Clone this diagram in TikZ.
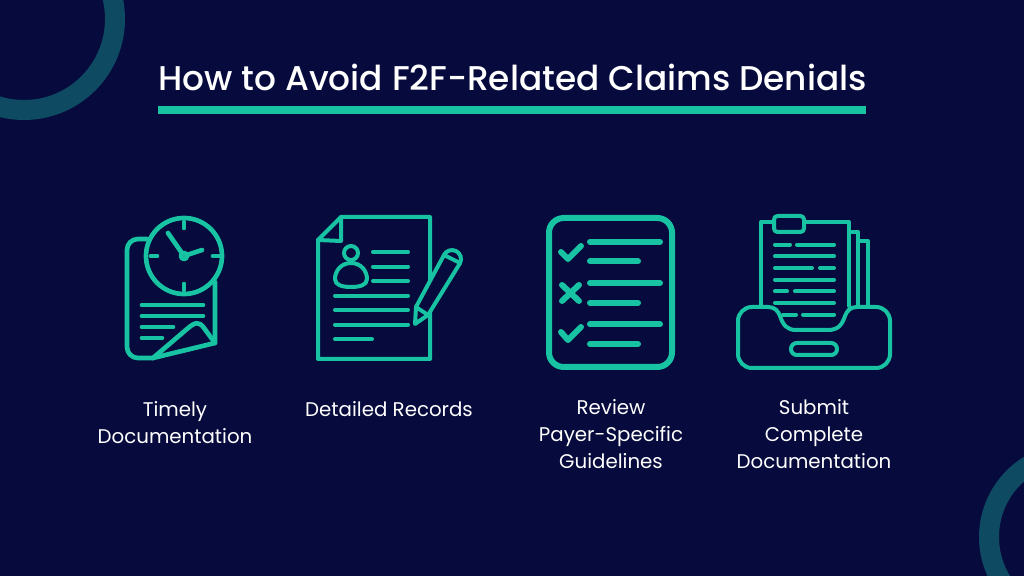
\documentclass[tikz,border=0pt]{standalone}
\usepackage{fontspec}
\setmainfont{Poppins}
\newfontfamily\titlefont{Poppins Medium}
\usepackage{xcolor}
\definecolor{navy}{HTML}{060A3C}
\definecolor{mint}{HTML}{17C3A2}
\definecolor{ringcol}{HTML}{0E4A62}
\tikzset{
  icon/.style={draw=mint, line width=1.4mm, line cap=round, line join=round},
  thinicon/.style={draw=mint, line width=1.2mm, line cap=round, line join=round},
  boldicon/.style={draw=mint, line width=1.8mm, line cap=round, line join=round},
  caption/.style={text=white, align=center, font=\fontsize{16.9}{23}\selectfont, inner sep=0pt},
}
\begin{document}
\begin{tikzpicture}[x=0.3mm, y=-0.3mm]
	\useasboundingbox (0,0) rectangle (1024,576);
	% background
	\fill[navy] (0,0) rectangle (1024,576);
	\begin{scope}
		\clip (0,0) rectangle (1024,576);
		\draw[ringcol, line width=6mm] (24,19) circle (91);
		\draw[ringcol, line width=6mm] (1073,537) circle (84);
	\end{scope}

	% title
	\node[text=white, anchor=base west, inner sep=0pt, font=\fontsize{29.3}{34}\selectfont\titlefont] (title) at (158,91) {How to Avoid F2F-Related Claims Denials};
	\fill[mint] (158,106) rectangle (866,114);

	% clock document
	\draw[icon] (147,239) -- (138,239) arc (-90:-180:11) -- (127,347) arc (180:90:11) -- (153,358) -- (215,343) -- (215,282);
	\draw[icon] (153,358) -- (187,329) .. controls (195,322) and (199,321) .. (204,328) -- (215,343);
	\draw[icon] (184,256) circle (38);
	\draw[icon] (184,222) -- (184,228);
	\draw[icon] (184,284) -- (184,290);
	\draw[icon] (151,256) -- (157,256);
	\draw[icon] (213,256) -- (219,256);
	\draw[icon] (168,233) -- (184,256) -- (202,250);
	\draw[icon, fill=navy] (184,256) circle (3);
	\draw[icon] (142,305) -- (203,305);
	\draw[icon] (142,316) -- (203,316);
	\draw[icon] (142,327) -- (173,327);
	\draw[icon] (142,338) -- (162,338);

	% records
	\draw[thinicon] (318,240) -- (341,217) -- (430,217) -- (430,359) -- (318,359) -- cycle;
	\draw[thinicon] (341,217) -- (341,241) -- (318,240);
	\draw[thinicon] (351,253) circle (7);
	\draw[thinicon] (351,263) .. controls (341,263) and (335,271) .. (335,279) .. controls (335,285) and (342,287) .. (351,287) .. controls (360,287) and (367,285) .. (367,279) .. controls (367,271) and (361,263) .. (351,263) -- cycle;
	\foreach \y in {252.3,266.7,281}{
		\draw[thinicon] (373,\y) -- (408,\y);
	}
	\foreach \y in {295.7,310,324.7}{
		\draw[thinicon] (335,\y) -- (408,\y);
	}
	\draw[thinicon] (335,339) -- (372,339);
	% pencil
	\draw[thinicon, fill=navy] (415,324) -- (416,307) -- (444,255) arc (-153:27:9) -- (428,315) -- cycle;
	\draw[thinicon] (416,307) -- (428,315);
	\draw[thinicon] (444,255) -- (460,263);

	% checklist
	\draw[boldicon, rounded corners=12.5pt] (549,218) rectangle (672,367);
	\foreach \y in {241.7,283,324.3}{
		\draw[boldicon] (590,\y) -- (660,\y);
		\draw[boldicon] (590,\y+19.7) -- (638,\y+19.7);
	}
	\draw[boldicon] (561,252) -- (568,259) -- (581,246);
	\draw[boldicon] (561,332) -- (568,340) -- (581,327);
	\draw[boldicon] (562,285) -- (579,301);
	\draw[boldicon] (579,285) -- (562,301);

	% inbox
	\draw[thinicon] (761,306) -- (761,222) -- (849,222) -- (849,306);
	\draw[thinicon] (851,232) -- (858,232) -- (858,306);
	\draw[thinicon] (860,241) -- (868,241) -- (868,306);
	\draw[thinicon, fill=navy, rounded corners=3pt] (774,216) rectangle (804,232);
	\draw[thinicon, fill=navy] (752,307) -- (768,307) .. controls (775,307) and (778,311) .. (780,316) .. controls (783,325) and (787,330) .. (796,330) -- (828,330) .. controls (838,330) and (842,325) .. (845,316) .. controls (847,311) and (850,307) .. (857,307) -- (876,307) arc (-90:0:14) -- (890,354) arc (0:90:14) -- (752,368) arc (90:180:14) -- (738,321) arc (180:270:14) -- cycle;
	\draw[thinicon, rounded corners=5pt] (791,343) rectangle (837,355);
	\foreach \y in {256.3,279.7,303}{
		\draw[thinicon] (775,\y) -- (834,\y);
	}
	\draw[thinicon] (775,244.7) -- (790,244.7) (797,244.7) -- (834,244.7);
	\draw[thinicon] (775,268) -- (812,268) (820,268) -- (834,268);
	\draw[thinicon] (775,291.3) -- (787,291.3) (795,291.3) -- (834,291.3);
	\draw[thinicon] (783,314.7) -- (796,314.7) (803,314.7) -- (834,314.7);

	% captions
	\node[caption] (timely) at (175,423) {Timely\\Documentation};
	\node[caption] (records) at (389,409) {Detailed Records};
	\node[caption] (review) at (611,434.5) {Review\hspace{5pt}\\Payer-Specific\\Guidelines};
	\node[caption] (submit) at (814,434.5) {Submit\\Complete\\Documentation};
\end{tikzpicture}
\end{document}
